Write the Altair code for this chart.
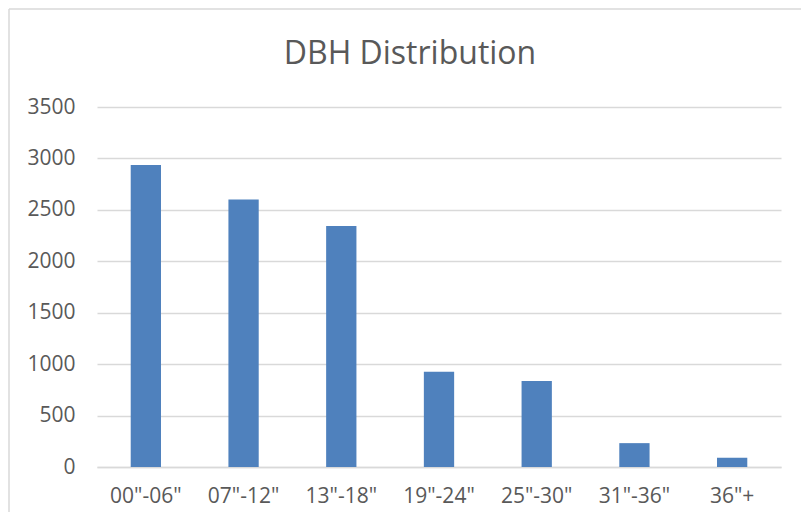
import altair as alt
import pandas as pd

categories = ['00"-06"', '07"-12"', '13"-18"', '19"-24"', '25"-30"', '31"-36"', '36"+']
counts = [2935, 2601, 2342, 925, 836, 232, 90]
title_text = "DBH Distribution"
y_ticks = [0, 500, 1000, 1500, 2000, 2500, 3000, 3500]

df = pd.DataFrame({"cat": categories, "count": counts})

W, H = 684, 360
FONT = "Open Sans"
GRAY = "#595959"

bars = alt.Chart(df).mark_bar(color="#4f81bd").encode(
    x=alt.X("cat:N", sort=categories, title=None,
            scale=alt.Scale(paddingInner=0.69, paddingOuter=0.345),
            axis=alt.Axis(labelAngle=0, labelFont=FONT, labelFontSize=21,
                          labelColor=GRAY, ticks=False, domain=True,
                          domainColor="#d9d9d9", domainWidth=1.5,
                          labelPadding=18, grid=False)),
    y=alt.Y("count:Q", title=None,
            scale=alt.Scale(domain=[0, 3500], nice=False),
            axis=alt.Axis(values=y_ticks, format="d", labelFont=FONT, labelFontSize=21,
                          labelColor=GRAY, ticks=False, domain=False,
                          labelPadding=22, gridColor="#d9d9d9", gridWidth=1.5)),
)

title = alt.Chart(pd.DataFrame({"t": [title_text]})).mark_text(
    font=FONT, fontSize=32, color=GRAY, align="center", baseline="middle"
).encode(text="t:N", x=alt.value(313), y=alt.value(-53))

border_v = alt.Chart(pd.DataFrame({"a": [0]})).mark_rule(color="#d9d9d9", strokeWidth=1.5).encode(
    x=alt.value(-88), y=alt.value(-98), y2=alt.value(H + 60)
)
border_h = alt.Chart(pd.DataFrame({"a": [0]})).mark_rule(color="#d9d9d9", strokeWidth=1.5).encode(
    x=alt.value(-88), x2=alt.value(W + 40), y=alt.value(-98)
)

chart = alt.layer(bars, title, border_v, border_h).properties(
    width=W, height=H,
    background="white",
    autosize=alt.AutoSizeParams(type="none"),
    padding={"left": 89, "top": 99, "right": 20, "bottom": 45},
).configure_view(stroke="transparent", strokeWidth=0)

chart.save("out.html", embed_options={"renderer": "svg", "actions": False})
